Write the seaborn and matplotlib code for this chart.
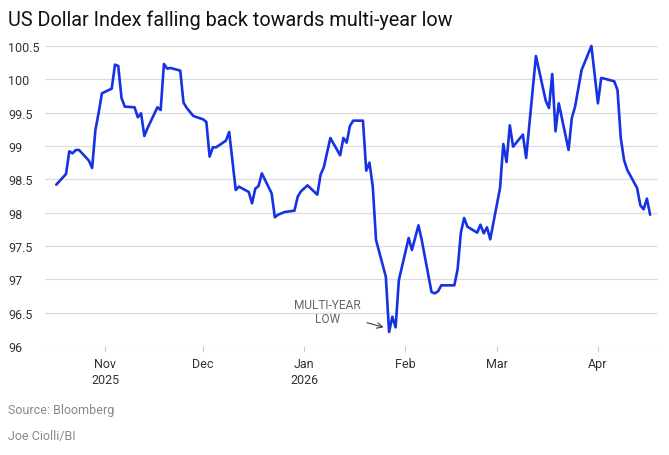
import pandas as pd
import seaborn as sns
import matplotlib.pyplot as plt

# US Dollar Index (vertex dates and closing values)
dates = [
    "2025-10-17", "2025-10-20", "2025-10-21", "2025-10-22", "2025-10-23", "2025-10-24",
    "2025-10-27", "2025-10-28", "2025-10-29", "2025-10-30", "2025-10-31",
    "2025-11-03", "2025-11-04", "2025-11-05", "2025-11-06", "2025-11-07",
    "2025-11-10", "2025-11-11", "2025-11-12", "2025-11-13", "2025-11-14",
    "2025-11-17", "2025-11-18", "2025-11-19", "2025-11-20", "2025-11-21",
    "2025-11-24", "2025-11-25", "2025-11-26", "2025-11-28",
    "2025-12-01", "2025-12-02", "2025-12-03", "2025-12-04", "2025-12-05",
    "2025-12-08", "2025-12-09", "2025-12-11", "2025-12-12",
    "2025-12-15", "2025-12-16", "2025-12-17", "2025-12-18", "2025-12-19",
    "2025-12-22", "2025-12-23", "2025-12-24", "2025-12-26",
    "2025-12-29", "2025-12-30", "2025-12-31", "2026-01-02",
    "2026-01-05", "2026-01-06", "2026-01-07", "2026-01-09",
    "2026-01-12", "2026-01-13", "2026-01-14", "2026-01-15", "2026-01-16",
    "2026-01-19", "2026-01-20", "2026-01-21", "2026-01-22", "2026-01-23",
    "2026-01-26", "2026-01-27", "2026-01-28", "2026-01-29", "2026-01-30",
    "2026-02-02", "2026-02-03", "2026-02-05", "2026-02-06",
    "2026-02-09", "2026-02-10", "2026-02-11", "2026-02-12",
    "2026-02-16", "2026-02-17", "2026-02-18", "2026-02-19", "2026-02-20",
    "2026-02-23", "2026-02-24", "2026-02-25", "2026-02-26", "2026-02-27",
    "2026-03-02", "2026-03-03", "2026-03-04", "2026-03-05", "2026-03-06",
    "2026-03-09", "2026-03-10", "2026-03-13",
    "2026-03-16", "2026-03-17", "2026-03-18", "2026-03-19", "2026-03-20",
    "2026-03-23", "2026-03-24", "2026-03-25", "2026-03-27",
    "2026-03-30", "2026-04-01", "2026-04-02", "2026-04-03",
    "2026-04-06", "2026-04-07", "2026-04-08", "2026-04-09", "2026-04-10",
    "2026-04-13", "2026-04-14", "2026-04-15", "2026-04-16", "2026-04-17",
]
values = [
    98.42, 98.58, 98.92, 98.89, 98.94, 98.94,
    98.78, 98.67, 99.24, 99.50, 99.79,
    99.86, 100.22, 100.20, 99.72, 99.59,
    99.58, 99.43, 99.49, 99.15, 99.27,
    99.58, 99.54, 100.23, 100.16, 100.17,
    100.13, 99.65, 99.57, 99.45,
    99.40, 99.36, 98.84, 98.98, 98.98,
    99.08, 99.21, 98.34, 98.39,
    98.31, 98.14, 98.36, 98.40, 98.59,
    98.29, 97.93, 97.97, 98.01,
    98.03, 98.24, 98.32, 98.41,
    98.27, 98.57, 98.68, 99.12,
    98.86, 99.12, 99.05, 99.30, 99.38,
    99.38, 98.63, 98.75, 98.39, 97.59,
    97.04, 96.21, 96.44, 96.28, 96.99,
    97.62, 97.44, 97.81, 97.59,
    96.81, 96.79, 96.82, 96.91,
    96.91, 97.15, 97.70, 97.92, 97.79,
    97.70, 97.82, 97.69, 97.78, 97.60,
    98.37, 99.03, 98.76, 99.31, 98.99,
    99.17, 98.82, 100.35,
    99.68, 99.57, 100.08, 99.22, 99.64,
    98.94, 99.42, 99.59, 100.14,
    100.50, 99.64, 100.02, 100.01,
    99.97, 99.84, 99.12, 98.79, 98.64,
    98.37, 98.11, 98.05, 98.21, 97.97,
]

y_ticks = [96, 96.5, 97, 97.5, 98, 98.5, 99, 99.5, 100, 100.5]
y_labels = ["96", "96.5", "97", "97.5", "98", "98.5", "99", "99.5", "100", "100.5"]
month_ticks = ["2025-11-01", "2025-12-01", "2026-01-01", "2026-02-01", "2026-03-01", "2026-04-01"]
month_labels = ["Nov\n2025", "Dec", "Jan\n2026", "Feb", "Mar", "Apr"]

df = pd.DataFrame({"date": pd.to_datetime(dates), "dxy": values})

sns.set_style("white")
plt.rcParams["font.family"] = ["Roboto", "DejaVu Sans"]

fig = plt.figure(figsize=(6.69, 4.56), dpi=100)
ax = fig.add_axes([0.067, 0.239, 0.917, 0.658])

sns.lineplot(data=df, x="date", y="dxy", ax=ax, color="#1532e3", linewidth=1.9, clip_on=False)

ax.set_ylim(96, 100.5)
ax.set_xlim(pd.Timestamp("2025-10-13 12:00"), pd.Timestamp("2026-04-19 12:00"))
ax.set_yticks(y_ticks)
ax.set_yticklabels(y_labels)
ax.set_xticks(pd.to_datetime(month_ticks))
ax.set_xticklabels(month_labels, linespacing=1.25)

for s in ax.spines.values():
    s.set_visible(False)
ax.grid(axis="y", color="#dcdcdc", linewidth=0.9)
ax.grid(axis="x", visible=False)
ax.set_axisbelow(True)

ax.tick_params(axis="y", length=0, pad=26.5, labelsize=9, labelcolor="#333333")
for lab in ax.get_yticklabels():
    lab.set_horizontalalignment("left")
ax.tick_params(axis="x", length=4, width=0.8, color="#cccccc", direction="out",
               pad=4, labelsize=9, labelcolor="#333333", bottom=True)
ax.set_xlabel("")
ax.set_ylabel("")

# annotation for the low
ax.text(pd.Timestamp("2026-01-08"), 96.52, "MULTI-YEAR\nLOW", ha="center", va="center",
        fontsize=8.6, color="#666666", linespacing=1.05)
ax.annotate("", xy=(pd.Timestamp("2026-01-26 04:00"), 96.27),
            xytext=(pd.Timestamp("2026-01-19 10:00"), 96.36),
            arrowprops=dict(arrowstyle="->", color="#444444", linewidth=0.8))

fig.text(8 / 669, 1 - 20 / 456, "US Dollar Index falling back towards multi-year low",
         fontsize=14.3, color="#111111", va="center", ha="left")
fig.text(8 / 669, 1 - 411 / 456, "Source: Bloomberg", fontsize=9, color="#888888",
         va="center", ha="left")
fig.text(8 / 669, 1 - 437 / 456, "Joe Ciolli/BI", fontsize=9, color="#888888",
         va="center", ha="left")

fig.savefig("out.png", dpi=100)
plt.close(fig)
